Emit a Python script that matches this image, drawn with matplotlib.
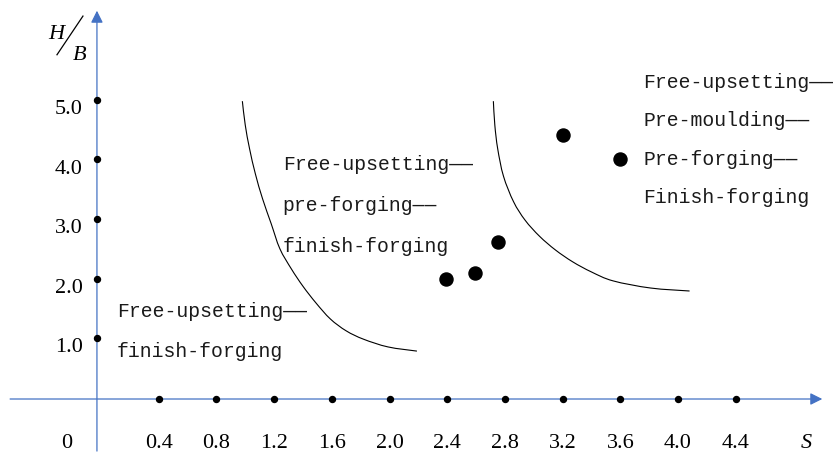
import numpy as np
from matplotlib import pyplot as plt
from matplotlib.path import Path
from matplotlib.patches import PathPatch

# data
x_ticks = [0.4, 0.8, 1.2, 1.6, 2.0, 2.4, 2.8, 3.2, 3.6, 4.0, 4.4]
x_tick_labels = ['0.4', '0.8', '1.2', '1.6', '2.0', '2.4', '2.8', '3.2', '3.6', '4.0', '4.4']
y_ticks = [1.0, 2.0, 3.0, 4.0, 5.0]
y_tick_labels = ['1.0', '2.0', '3.0', '4.0', '5.0']

# boundary curves (S, H/B)
curve1_s = [0.98, 1.00, 1.03, 1.07, 1.12, 1.18, 1.24, 1.32, 1.40, 1.49, 1.59, 1.70, 1.82, 1.99, 2.19]
curve1_h = [4.98, 4.58, 4.18, 3.76, 3.34, 2.92, 2.50, 2.16, 1.87, 1.59, 1.32, 1.12, 0.98, 0.85, 0.78]
curve2_s = [2.72, 2.73, 2.75, 2.79, 2.86, 2.94, 3.04, 3.15, 3.27, 3.40, 3.55, 3.81, 4.08]
curve2_h = [4.98, 4.58, 4.18, 3.72, 3.29, 2.98, 2.71, 2.48, 2.28, 2.11, 1.96, 1.84, 1.79]

# measured parts
point_s = [2.39, 2.59, 2.75, 3.20, 3.60]
point_h = [1.99, 2.09, 2.61, 4.41, 4.01]

# process regions
list_text_left = ['Free-upsetting——', 'finish-forging']
list_text_mid = ['Free-upsetting——', 'pre-forging——', 'finish-forging']
list_text_right = ['Free-upsetting——', 'Pre-moulding——', 'Pre-forging——', 'Finish-forging']

blue = '#4472C4'
serif = 'Liberation Serif'
mono = 'Liberation Mono'


def smooth_path(list_x, list_y):
    """
    Catmull-Rom through the read points, drawn as cubic bezier segments.
    """
    pts = np.column_stack([list_x, list_y])
    n = len(pts)
    verts = [pts[0]]
    codes = [Path.MOVETO]
    for i in range(n - 1):
        p0 = pts[max(i - 1, 0)]
        p1 = pts[i]
        p2 = pts[i + 1]
        p3 = pts[min(i + 2, n - 1)]
        verts += [p1 + (p2 - p0) / 6, p2 - (p3 - p1) / 6, p2]
        codes += [Path.CURVE4] * 3
    return Path(verts, codes)


fig = plt.figure(figsize=(8.37, 4.56), dpi=100)
ax = fig.add_axes([0, 0, 1, 1])
ax.set_xlim(-0.70, 5.102)
ax.set_ylim(-0.966, 6.697)
ax.axis('off')

# axes with arrows
ax_x = -0.028
ax_y = -0.025
arrow = dict(arrowstyle='-|>', color=blue, lw=0.9, mutation_scale=18, shrinkA=0, shrinkB=0)
ax.annotate('', xy=(ax_x, 6.5), xytext=(ax_x, -0.9), arrowprops=arrow)
ax.annotate('', xy=(5.0, ax_y), xytext=(-0.63, ax_y), arrowprops=arrow)

# tick dots and labels
ax.plot(x_ticks, [ax_y] * len(x_ticks), 'o', c='k', ms=4.3, zorder=3)
ax.plot([ax_x] * len(y_ticks), y_ticks, 'o', c='k', ms=4.3, zorder=3)
for t, lab in zip(x_ticks, x_tick_labels):
    ax.text(t, -0.75, lab, ha='center', va='center', fontsize=16, family=serif)
for t, lab in zip(y_ticks, y_tick_labels):
    ax.text(-0.125, t - 0.15, lab, ha='right', va='center', fontsize=16, family=serif)
ax.text(-0.236, -0.75, '0', ha='center', va='center', fontsize=16, family=serif)
ax.text(4.89, -0.75, 'S', ha='center', va='center', fontsize=16, family=serif, style='italic')

# H/B label
ax.text(-0.312, 6.11, 'H', ha='center', va='center', fontsize=16, family=serif, style='italic')
ax.text(-0.146, 5.77, 'B', ha='center', va='center', fontsize=16, family=serif, style='italic')
ax.plot([-0.305, -0.125], [5.76, 6.41], c='k', lw=0.9)

# curves and points
for cs, ch in [(curve1_s, curve1_h), (curve2_s, curve2_h)]:
    ax.add_patch(PathPatch(smooth_path(cs, ch), fc='none', ec='k', lw=0.8))
ax.plot(point_s, point_h, 'o', c='k', ms=9.4, ls='none')

# region text
for i, s in enumerate(list_text_left):
    ax.text(0.11, 1.37 - 0.67 * i, s, ha='left', va='baseline', fontsize=14.2, family=mono, color='#1a1a1a')
for i, s in enumerate(list_text_mid):
    ax.text(1.26, 3.84 - 0.69 * i, s, ha='left', va='baseline', fontsize=14.2, family=mono, color='#1a1a1a')
for i, s in enumerate(list_text_right):
    ax.text(3.76, 5.22 - 0.645 * i, s, ha='left', va='baseline', fontsize=14.2, family=mono, color='#1a1a1a')

fig.savefig('out.png', dpi=100)
